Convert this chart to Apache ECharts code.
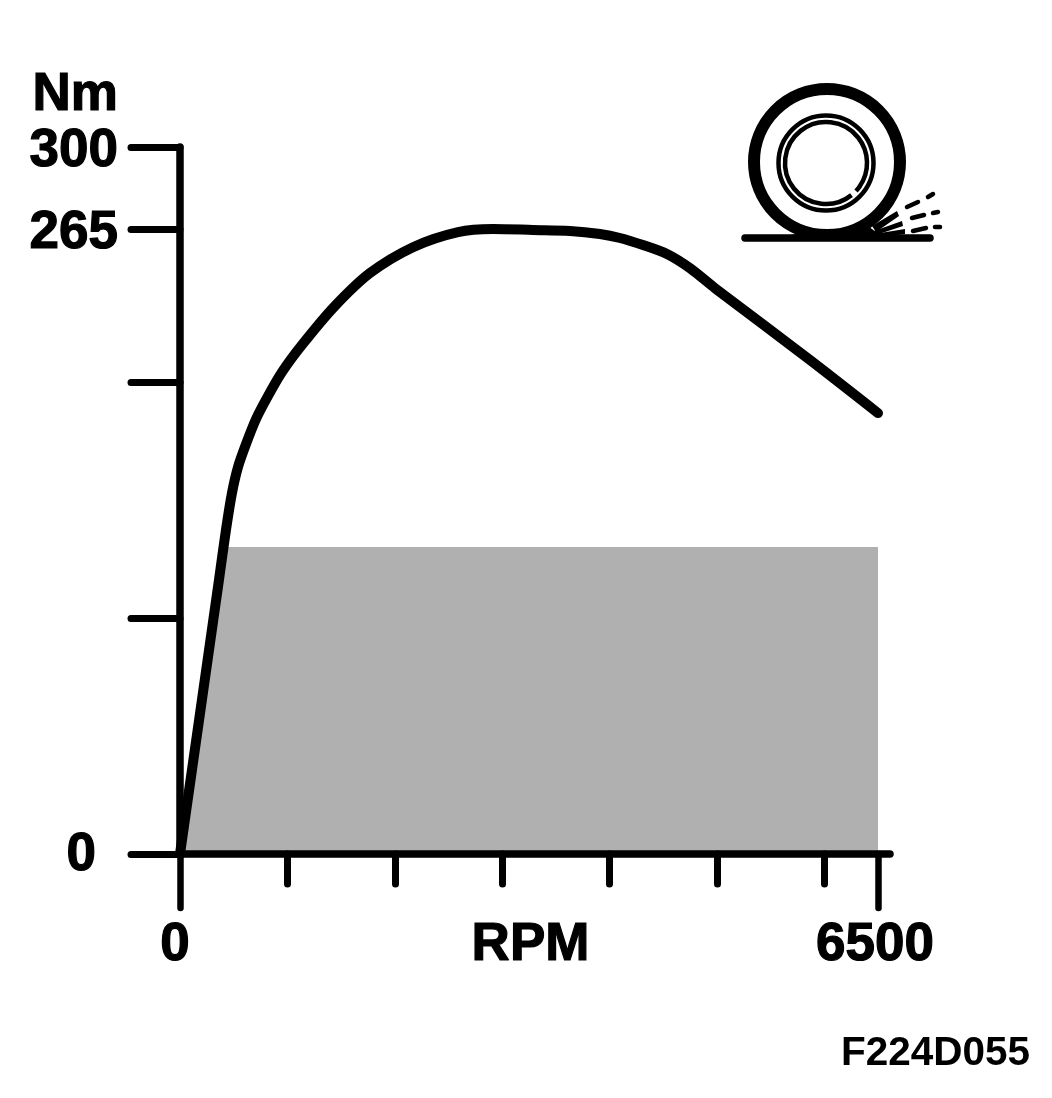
<!DOCTYPE html>
<html>
<head>
<meta charset="utf-8">
<style>html,body{margin:0;padding:0;background:#fff}#c{width:1052px;height:1098px}</style>
<script src="https://cdn.jsdelivr.net/npm/echarts@6/dist/echarts.min.js"></script>
</head>
<body>
<div id="c"></div>
<script>
const curveRpm = [0,363,428,484,540,615,708,819,950,1136,1434,1769,2170,2589,2915,3287,3632,3911,4097,4311,4535,4749,4982,5867,6500];
const curveNm  = [0,116.3,137.5,153.2,164.2,174,184.6,194.3,204.5,216,232.1,246.5,257.5,263.9,265.2,264.8,264.4,263.1,261.4,258.4,254.6,248.6,240.1,209.6,187.1];
const shadeRpm = [0,400,6500];
const shadeNm  = [0,130.3,130.3];
const yTicks = [0,100,200,265,300];
const yLabels = [0,265,300];
const xShortTicks = [1000,2000,3000,4000,5000,6000];
const xLongTicks = [0,6500];
const zip = (a,b)=>a.map((v,i)=>[v,b[i]]);
const INK = '#000';
const FONT = '"Liberation Sans", Arial, sans-serif';
const big = {fontFamily:FONT,fontWeight:'bold',fontSize:53,color:INK,textBorderColor:INK,textBorderWidth:1.2};

const ringLine = (cx,cy,r,w,s,e)=>({type:'arc',silent:true,shape:{cx,cy,r,startAngle:s,endAngle:e},style:{stroke:INK,lineWidth:w,fill:null}});
const seg = (x1,y1,x2,y2,w)=>({type:'line',silent:true,shape:{x1,y1,x2,y2},style:{stroke:INK,lineWidth:w,lineCap:'round'}});
const wedge = pts=>({type:'polygon',silent:true,shape:{points:pts},style:{fill:INK}});

const chart = echarts.init(document.getElementById('c'),null,{renderer:'canvas'});
chart.setOption({
  animation:false,
  backgroundColor:'#fff',
  grid:{left:180,top:147,width:710,height:707},
  xAxis:[
    {type:'value',min:0,max:6612,position:'bottom',z:4,
     name:'RPM',nameLocation:'middle',nameGap:65,nameTextStyle:{...big,padding:[0,9,0,0]},
     axisLine:{show:true,onZero:false,lineStyle:{color:INK,width:7.5,cap:'round'}},
     axisTick:{show:true,length:30,customValues:xShortTicks,lineStyle:{color:INK,width:7,cap:'round'}},
     axisLabel:{show:false},splitLine:{show:false}},
    {type:'value',min:0,max:6612,position:'bottom',z:4,
     axisLine:{show:false,onZero:false},
     axisTick:{show:true,length:54,customValues:xLongTicks,lineStyle:{color:INK,width:6.5,cap:'round'}},
     axisLabel:{show:true,margin:65,customValues:xLongTicks,...big,
       formatter:v=>v===0?'{a|0}':'{b|6500}',
       rich:{a:{...big,padding:[0,10,0,0]},b:{...big,padding:[0,6,0,0]}},
       showMinLabel:true,showMaxLabel:true,hideOverlap:false},
     splitLine:{show:false}}
  ],
  yAxis:{type:'value',min:0,max:300,z:4,
    name:'Nm',nameLocation:'end',nameGap:25,nameTextStyle:{...big,align:'right',padding:[0,62,0,0]},
    axisLine:{show:true,onZero:false,lineStyle:{color:INK,width:7.5,cap:'round'}},
    axisTick:{show:true,length:49,customValues:yTicks,lineStyle:{color:INK,width:7,cap:'round'}},
    axisLabel:{show:true,margin:62,customValues:yLabels,...big,
      formatter:v=>v===0?'{z|0}':'{p|'+v+'}',
      rich:{z:{...big,padding:[2,22,0,0]},p:{...big,padding:[8,0,0,0]}},
      showMinLabel:true,showMaxLabel:true,hideOverlap:false},
    splitLine:{show:false}},
  series:[
    {type:'line',name:'Shade',data:zip(shadeRpm,shadeNm),showSymbol:false,silent:true,z:1,
     lineStyle:{width:0},areaStyle:{color:'#b0b0b0',opacity:1}},
    {type:'line',name:'Torque',data:zip(curveRpm,curveNm),showSymbol:false,silent:true,z:5,clip:false,
     smooth:0.3,lineStyle:{color:INK,width:10,cap:'round',join:'round'}}
  ],
  graphic:[
    {type:'circle',silent:true,shape:{cx:827,cy:162,r:73},style:{stroke:INK,lineWidth:12,fill:null}},
    {type:'circle',silent:true,shape:{cx:826,cy:163,r:47.5},style:{stroke:INK,lineWidth:4.5,fill:null}},
    ringLine(826,163,41,4.5,0.9,6.9),
    ringLine(826,163,41,4.5,0.6,0.75),
    seg(745,238,930,238,7.5),
    wedge([[790,235],[880,235],[868,226],[835,238],[810,232]]),
    wedge([[872,226],[897,211],[899,216],[876,232]]),
    wedge([[874,231],[902,221],[903,226],[876,235]]),
    wedge([[874,234],[905,229],[905,234],[874,238]]),
    seg(907,207,918,202,4.5),seg(928,197,933,194,4.5),
    seg(912,218,924,215,4.5),seg(933,213,938,212,4.5),
    seg(913,231,926,228,4.5),seg(935,227,940,227,4.5),
    {type:'text',silent:true,x:841,y:1033,style:{text:'F224D055',fill:INK,font:'bold 40.5px "Liberation Sans", Arial, sans-serif'}}
  ]
});
</script>
</body>
</html>
